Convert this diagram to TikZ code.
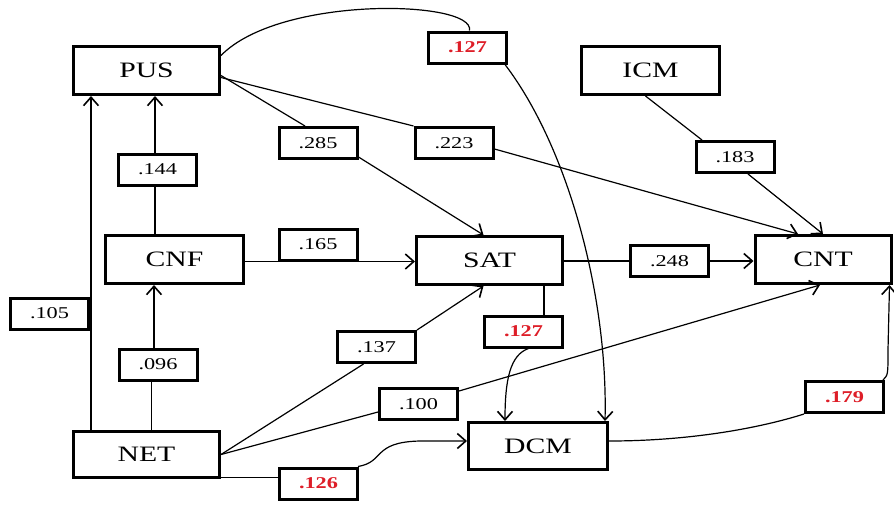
\documentclass[tikz,border=0pt]{standalone}
\usepackage{fontspec}
\setmainfont{Liberation Serif}[FakeStretch=1.35]
\usetikzlibrary{arrows.meta,calc}
\definecolor{lblred}{RGB}{222,30,40}
\begin{document}
\begin{tikzpicture}[x=1pt,y=-1pt,
 var/.style={draw, line width=3pt, fill=white, inner sep=0pt, font=\fontsize{22}{22}\selectfont},
 coef/.style={draw, line width=3pt, fill=white, inner sep=0pt, minimum width=78pt, minimum height=31pt, font=\fontsize{16.5}{16.5}\selectfont},
 sig/.style={coef, text=lblred, font=\fontsize{16.5}{16.5}\selectfont\bfseries},
 link/.style={line width=1.2pt},
 arr/.style={link, -{Straight Barb[length=8.5pt,width=15pt,line width=1.6pt]}}
]
\useasboundingbox (0,0) rectangle (894,504);

% variables
\node[var, minimum width=146pt, minimum height=48pt] (PUS) at (146.5,70.5) {PUS};
\node[var, minimum width=138pt, minimum height=48pt] (ICM) at (650.5,70.5) {ICM};
\node[var, minimum width=138pt, minimum height=48pt] (CNF) at (174.5,259.5) {CNF};
\node[var, minimum width=146pt, minimum height=48pt] (SAT) at (489.5,260.5) {SAT};
\node[var, minimum width=136pt, minimum height=48pt] (CNT) at (823,259.5) {CNT};
\node[var, minimum width=146pt, minimum height=46pt] (NET) at (146.5,454.5) {NET};
\node[var, minimum width=139pt, minimum height=47pt] (DCM) at (538,446) {DCM};

% coefficients
\node[sig]  (l127a) at (467.5,47.5) {.127};
\node[coef] (l285)  at (318,143)    {.285};
\node[coef] (l223)  at (454,143)    {.223};
\node[coef] (l144)  at (157.5,169.5) {.144};
\node[coef] (l183)  at (735,157)    {.183};
\node[coef] (l165)  at (318,244.5)  {.165};
\node[coef] (l248)  at (669.5,261)  {.248};
\node[coef] (l105)  at (49.5,313.5) {.105};
\node[coef] (l096)  at (158,364.5)  {.096};
\node[coef] (l137)  at (376.5,347)  {.137};
\node[coef] (l100)  at (418.5,404)  {.100};
\node[sig]  (l127b) at (523.5,331.5) {.127};
\node[sig]  (l126)  at (318.5,483.5) {.126};
\node[sig]  (l179)  at (844.5,397)  {.179};

% PUS -> DCM via .127
\draw[link] ([yshift=15pt]PUS.east) .. controls (280,-5) and (475,0) .. ([xshift=2pt]l127a.north);
\draw[arr] ([xshift=-3pt]l127a.south east) .. controls (570,150) and (608,300) .. ([xshift=-4pt]DCM.north east);

% PUS -> SAT via .285
\draw[link] ([yshift=-5pt]PUS.east) -- ([xshift=-13pt]l285.north);
\draw[arr] ([yshift=3pt]l285.south east) -- ([xshift=-6pt]SAT.north);

% PUS -> CNT via .223
\draw[link] ([yshift=-7pt]PUS.east) -- (l223.north west);
\draw[arr] ([yshift=-6pt]l223.east) -- ([xshift=-25pt]CNT.north);

% ICM -> CNT via .183
\draw[link] ([xshift=-5pt]ICM.south) -- ([xshift=-33pt]l183.north);
\draw[arr] ([xshift=13pt]l183.south) -- (CNT.north);

% CNF -> PUS via .144
\draw[link] ($(CNF.north)+(-19.5,0)$) -- ($(l144.south)+(-2.5,0)$);
\draw[arr] ($(l144.north)+(-2.5,0)$) -- ($(PUS.south)+(8.5,0)$);

% NET -> CNF via .096
\draw[link] ($(NET.north)+(5,0)$) -- ($(l096.south)+(-6.5,0)$);
\draw[arr] ($(l096.north)+(-4,0)$) -- ($(CNF.south)+(-20.5,0)$);

% NET -> PUS via .105
\draw[arr] ([xshift=19pt]NET.north west) -- ([xshift=19pt]PUS.south west);

% CNF -> SAT via .165
\draw[arr] (CNF.east |- l165.south) -- (SAT.west |- l165.south);

% SAT -> CNT via .248
\draw[link] (SAT.east |- l248) -- (l248.west);
\draw[arr] (l248.east) -- (CNT.west |- l248);

% NET -> SAT via .137
\draw[link] (NET.east) -- ([xshift=-13pt]l137.south);
\draw[arr] (l137.north east) -- ([xshift=-6pt]SAT.south);

% NET -> CNT via .100
\draw[link] (NET.east) -- ([yshift=-8pt]l100.west);
\draw[arr] ([yshift=13pt]l100.east) -- ([xshift=-3pt]CNT.south);

% NET -> DCM via .126
\draw[link] ([yshift=1.5pt]NET.south east) -- ([yshift=1.5pt]l126.west |- NET.south east);
\draw[arr] ([xshift=-1pt]l126.north east) .. controls (385,462) and (372,442) .. (420,441) -- ($(DCM.west)+(0,-5)$);

% SAT -> DCM via .127
\draw[link] ($(SAT.south)+(54.5,0)$) -- ($(l127b.north)+(20.5,0)$);
\draw[arr] ($(l127b.south)+(5,0)$) .. controls (510,355) and (505,380) .. ($(DCM.north)+(-33,0)$);

% DCM -> CNT via .179
\draw[link] ($(DCM.east)+(0,-5)$) .. controls (690,441) and (760,428) .. (l179.south west);
\draw[arr] ($(l179.north east)+(-2,0)$) .. controls (888,375) .. (888,350) -- ($(CNT.south east)+(-3,0)$);
\end{tikzpicture}
\end{document}
